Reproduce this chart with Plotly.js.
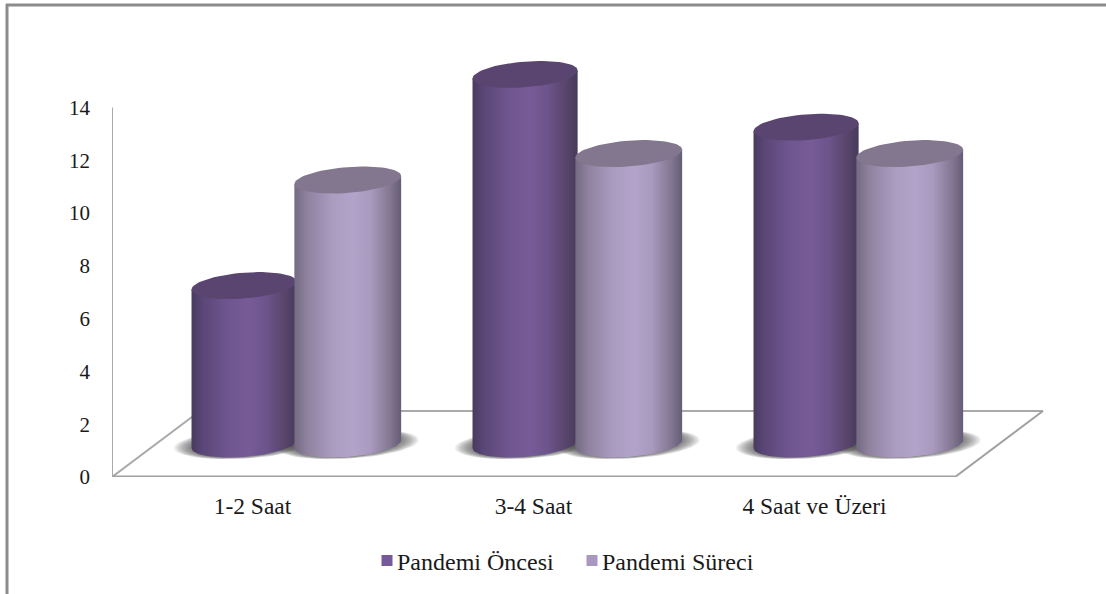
<!DOCTYPE html>
<html>
<head>
<meta charset="utf-8">
<script src="https://cdn.plot.ly/plotly-3.0.1.min.js"></script>
<style>
  html, body { margin: 0; padding: 0; background: #fff; overflow: hidden; }
  #chart { width: 1106px; height: 594px; }
</style>
</head>
<body>
<div id="chart"></div>
<script>
// Survey values per daily-duration category
const categories = ['1-2 Saat', '3-4 Saat', '4 Saat ve Üzeri'];
const pandemiOncesi = [6, 14, 12];
const pandemiSureci = [10, 11, 11];
const yTicks = [0, 2, 4, 6, 8, 10, 12, 14];

const seriesNames = ['Pandemi Öncesi', 'Pandemi Süreci'];
const seriesValues = [pandemiOncesi, pandemiSureci];

// Colours for each series: side shading, lid and legend swatch
const sideScales = [
  [[0, '#483a5e'], [0.1, '#5a4676'], [0.35, '#6f5690'], [0.55, '#775b98'], [0.72, '#6c538a'], [0.9, '#574469'], [1, '#463a5c']],
  [[0, '#746a82'], [0.12, '#8f829f'], [0.35, '#aa9bbf'], [0.55, '#b3a3ca'], [0.72, '#a899bd'], [0.9, '#827691'], [1, '#655c76']]
];
const lidColours = ['#5a4470', '#83768f'];
const swatchColours = ['#75599a', '#a898c0'];

// Pseudo-3D geometry, in axis units (x: category index, y: value)
const floorDepthX = 0.313, floorDepthY = 2.5;
const shiftX = 0.154, shiftY = floorDepthY / 2;
const radiiX = [0.187, 0.19], radiusY = 0.489, tilt = 0.151, barOffsets = [-0.184, 0.185];
const axisLeft = -0.5, axisRight = 2.5;

const traces = [];

function lineTrace(xs, ys, width, colour) {
  traces.push({ x: xs, y: ys, mode: 'lines', line: { color: colour, width: width },
    showlegend: false, hoverinfo: 'skip', cliponaxis: false });
}

// Floor outline and the vertical value wall
lineTrace([axisLeft + floorDepthX, axisRight + floorDepthX], [floorDepthY, floorDepthY], 2, '#a9a9a9');
lineTrace([axisLeft, axisLeft + floorDepthX], [0, floorDepthY], 2, '#a9a9a9');
lineTrace([axisRight, axisRight + floorDepthX], [0, floorDepthY], 2, '#a0a0a0');
lineTrace([axisLeft, axisRight], [0, 0], 3, '#a0a0a0');
lineTrace([axisLeft, axisLeft], [0, yTicks[yTicks.length - 1]], 2, '#a9a9a9');

function ellipse(cx, cy, ax, ay, sk) {
  const xs = [], ys = [];
  for (let i = 0; i <= 72; i++) {
    const t = i / 72 * 2 * Math.PI;
    const u = Math.cos(t);
    xs.push(cx + ax * u);
    ys.push(cy + sk * u + ay * Math.sin(t));
  }
  return { xs, ys };
}

function lowerArc(cx, cy, ax) {
  const xs = [], ys = [];
  for (let i = 0; i <= 48; i++) {
    const t = Math.PI + i / 48 * Math.PI;
    const u = Math.cos(t);
    xs.push(cx + ax * u);
    ys.push(cy + tilt * u + radiusY * Math.sin(t));
  }
  return { xs, ys };
}

// Soft contact shadows on the floor, stacked translucent rings
seriesValues.forEach(function (vals, s) {
  vals.forEach(function (v, c) {
    const cx = c + shiftX + barOffsets[s];
    for (let k = 0; k < 9; k++) {
      const f = 1 - k / 8;
      const e = ellipse(cx, shiftY, radiiX[s] + 0.062 * f, radiusY + 0.07 * f, tilt);
      traces.push({ x: e.xs, y: e.ys, mode: 'lines', fill: 'toself', line: { width: 0 },
        fillcolor: 'rgba(55,55,55,0.1)', showlegend: false, hoverinfo: 'skip' });
    }
  });
});

// Cylinders: shaded side first, then the lid, left series before right
categories.forEach(function (name, c) {
  seriesValues.forEach(function (vals, s) {
    const ax = radiiX[s];
    const cx = c + shiftX + barOffsets[s];
    const top = vals[c] + shiftY;
    const arc = lowerArc(cx, shiftY, ax);
    const xs = arc.xs.concat([cx + ax, cx - ax, cx - ax]);
    const ys = arc.ys.concat([top + tilt, top - tilt, arc.ys[0]]);
    traces.push({
      x: xs, y: ys, mode: 'lines', fill: 'toself', line: { width: 0 },
      fillgradient: { type: 'horizontal', colorscale: sideScales[s],
        start: cx - ax, stop: cx + ax },
      showlegend: false, hoverinfo: 'skip'
    });
    const lid = ellipse(cx, top, ax, radiusY, tilt);
    traces.push({ x: lid.xs, y: lid.ys, mode: 'lines', fill: 'toself', line: { width: 0 },
      fillcolor: lidColours[s], showlegend: false, hoverinfo: 'skip' });
  });
});

// Legend entries
seriesNames.forEach(function (n, s) {
  traces.push({ x: [null], y: [null], name: n, mode: 'markers',
    marker: { symbol: 'square', size: 11, color: swatchColours[s] } });
});

const pxPerUnitX = 281, pxPerUnitY = 26.4;
const serif = '"Liberation Serif", "Times New Roman", serif';
const plotLeft = 112, plotBottom = 477, pageW = 1106, pageH = 594;
const paperX = function (px) { return (px - plotLeft) / (pageW - plotLeft); };
const paperY = function (py) { return 1 - py / plotBottom; };

const layout = {
  width: pageW, height: pageH,
  margin: { l: plotLeft, r: 0, t: 0, b: pageH - plotBottom, pad: 0 },
  paper_bgcolor: '#ffffff', plot_bgcolor: '#ffffff',
  font: { family: serif, size: 18, color: '#1a1a1a' },
  showlegend: true,
  legend: { orientation: 'h', x: paperX(357), xanchor: 'left', y: paperY(561), yanchor: 'middle',
    entrywidth: 160, entrywidthmode: 'pixels',
    font: { family: serif, size: 24, color: '#1a1a1a' }, bgcolor: 'rgba(0,0,0,0)', borderwidth: 0 },
  xaxis: {
    range: [axisLeft, axisLeft + (pageW - plotLeft) / pxPerUnitX],
    tickmode: 'array', tickvals: categories.map(function (_, i) { return i; }), ticktext: categories,
    showgrid: false, zeroline: false, showline: false, ticks: '', ticklabelstandoff: 12,
    tickfont: { family: serif, size: 23.5, color: '#1a1a1a' }, fixedrange: true
  },
  yaxis: {
    range: [0, plotBottom / pxPerUnitY],
    tickmode: 'array', tickvals: yTicks,
    showgrid: false, zeroline: false, showline: false, ticks: '', ticklabelstandoff: 21,
    tickfont: { family: serif, size: 21, color: '#1a1a1a' }, fixedrange: true
  },
  shapes: [
    { type: 'line', xref: 'paper', yref: 'paper', layer: 'above',
      x0: paperX(7), x1: paperX(7), y0: paperY(4), y1: paperY(600),
      line: { color: '#8c8c8c', width: 3 } },
    { type: 'line', xref: 'paper', yref: 'paper', layer: 'above',
      x0: paperX(6), x1: paperX(1110), y0: paperY(5), y1: paperY(5),
      line: { color: '#8c8c8c', width: 3 } }
  ]
};

Plotly.newPlot('chart', traces, layout, { displayModeBar: false, staticPlot: true }).then(function (gd) {
  // Bring each legend swatch next to its label
  gd.querySelectorAll('.legend .legendpoints path').forEach(function (p) {
    p.setAttribute('transform', 'translate(30,0)');
  });
});
</script>
</body>
</html>
